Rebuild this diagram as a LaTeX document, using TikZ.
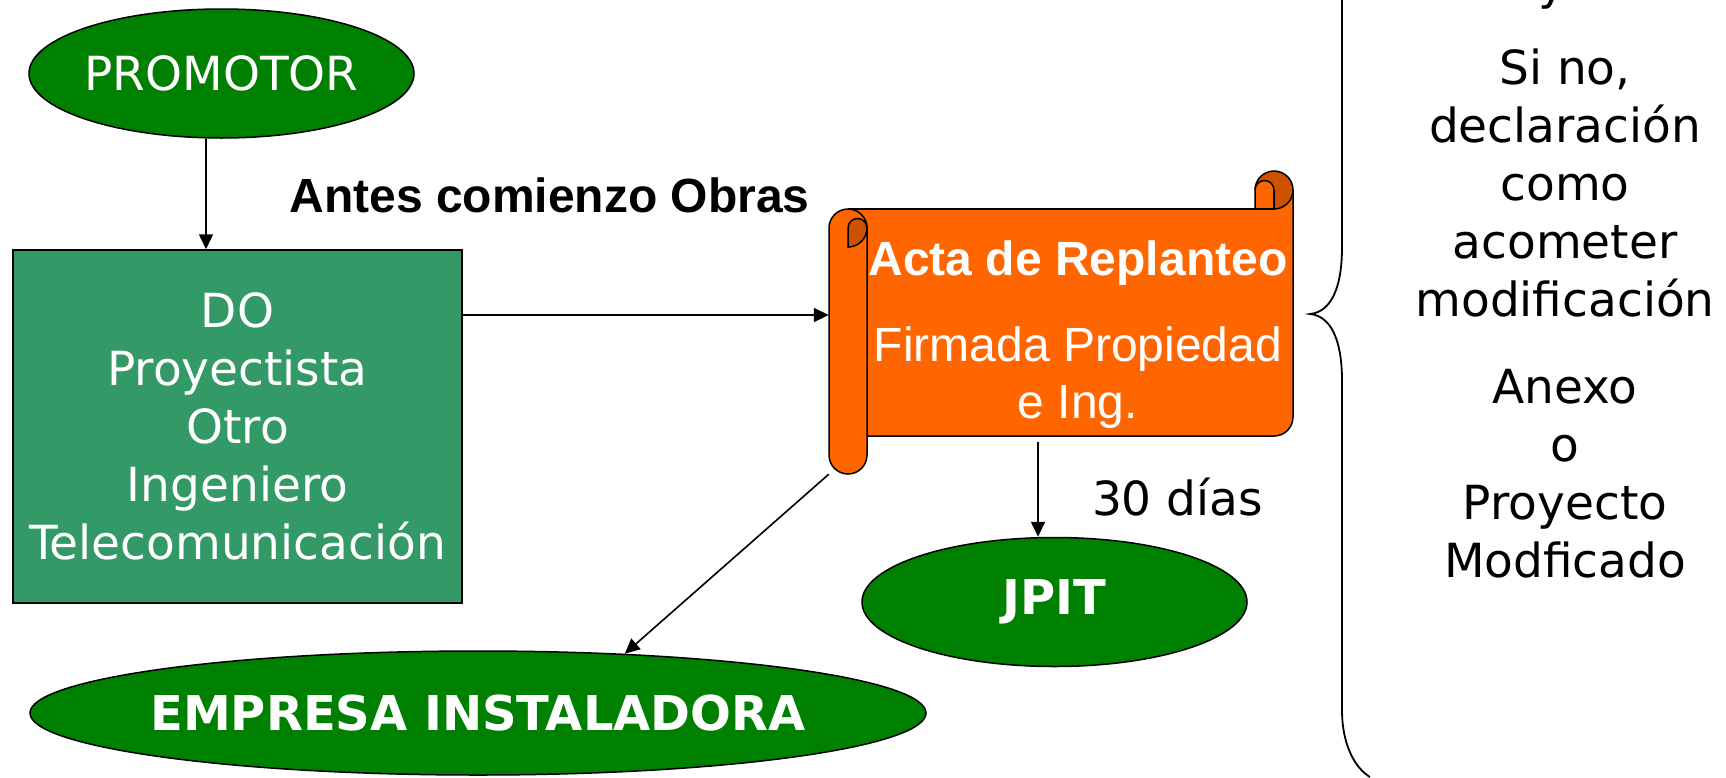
\documentclass[tikz,border=0pt]{standalone}
\usepackage{fontspec}
\setmainfont{DejaVu Sans}
\newfontfamily\arialfont{Liberation Sans}
\usetikzlibrary{shapes.geometric, arrows.meta}

\definecolor{verdeactor}{RGB}{0,128,0}
\definecolor{verdedo}{RGB}{51,153,102}
\definecolor{naranja}{RGB}{255,102,0}
\definecolor{naranjaosc}{RGB}{204,82,0}

\begin{document}
\begin{tikzpicture}[
        x=1pt, y=-1pt,
        every node/.style={align=center, inner sep=0pt, font=\fontsize{47}{58}\selectfont},
        actor/.style={ellipse, draw, line width=1.5pt, fill=verdeactor, text=white},
        actorb/.style={actor, font=\fontsize{48}{58}\selectfont\bfseries},
        agente/.style={draw, line width=1.5pt, fill=verdedo, text=white, minimum width=449pt, minimum height=353pt},
        marco/.style={minimum width=464pt, minimum height=303pt},
        titulo/.style={font=\arialfont\fontsize{48}{57}\selectfont\bfseries},
        actatxt/.style={font=\arialfont\fontsize{48}{57}\selectfont, text=white},
        rollo/.style={fill=naranja, draw=black, line width=1.5pt},
        rizo/.style={fill=naranjaosc, draw=black, line width=1.5pt},
        borde/.style={draw=black, line width=1.5pt},
        link/.style={-{Triangle[length=15pt, width=14pt]}, line width=1.6pt}
    ]
    \useasboundingbox (0,0) rectangle (1726,777);

    % Promotor y direccion de obra
    \node[actor, inner xsep=-2pt, minimum width=385pt, minimum height=129pt] (promotor) at (221.5,73.5) {PROMOTOR};
    \node[agente] (do) at (237.5,426.5) {DO\\Proyectista\\Otro\\Ingeniero\\Telecomunicación};
    \node[titulo, anchor=base] (antes) at (549.5,212) {Antes comienzo Obras};

    % Acta (pergamino)
    \fill[naranja] (848,209) -- (1255,209) -- (1255,190) -- (1293,190) -- (1293,417)
        arc[start angle=0, end angle=90, radius=19] -- (848,436) -- cycle;
    \fill[naranjaosc] (1274,190) circle[radius=19];
    \fill[naranja] (1255,209) -- (1255,190) arc[start angle=180, end angle=360, radius=9.5] -- (1274,209) -- cycle;
    \draw[borde] (848,209) -- (1274,209) -- (1274,190);
    \draw[borde] (1255,209) -- (1255,190) arc[start angle=180, end angle=360, radius=19] -- (1293,417)
        arc[start angle=0, end angle=90, radius=19] -- (867,436);
    \draw[borde] (1255,190) arc[start angle=180, end angle=360, radius=9.5];
    \draw[borde] (1293,190) arc[start angle=0, end angle=90, radius=19];
    \draw[rollo] (829,228) -- (829,455) arc[start angle=180, end angle=0, radius=19] -- (867,228)
        arc[start angle=0, end angle=-180, radius=19] -- cycle;
    \draw[rizo] (848,247) arc[start angle=90, end angle=0, radius=19]
        arc[start angle=0, end angle=-180, radius=9.5] -- cycle;

    \node[marco] (acta) at (1061,322.5) {};
    \node[titulo, text=white, anchor=base] (actatitulo) at (1078,275) {Acta de Replanteo};
    \node[actatxt, anchor=north] (actafirma) at (1078,326.6) {Firmada Propiedad\\e Ing.};
    \coordinate (actain) at ([yshift=7.5pt]acta.west);
    \coordinate (actapie) at ([yshift=32pt]acta.south);

    % Destinos
    \node[actorb, minimum width=385pt, minimum height=129pt] (jpit) at (1054.5,602) {JPIT};
    \node[anchor=base] (plazo) at (1177.5,515) {30 días};
    \node[actorb, inner xsep=-15pt, minimum width=896pt, minimum height=124pt] (empresa) at (478,713) {EMPRESA INSTALADORA};

    % Nota lateral
    \node[anchor=base] (notay) at (1552,-1) {y};
    \node[anchor=north] (nota) at (1565,48.3) {Si no,\\declaración\\como\\acometer\\modificación\\[29.5pt]Anexo\\o\\Proyecto\\Modficado};
    \draw[line width=1.8pt] (1370,-149) .. controls (1355,-140) and (1342,-117) .. (1342,-82) -- (1342,247)
        .. controls (1342,290) and (1330,312) .. (1310,314)
        .. controls (1330,316) and (1342,338) .. (1342,381) -- (1342,710)
        .. controls (1342,745) and (1355,768) .. (1370,777);

    % Edges
    \coordinate (bajada) at ([xshift=-15.5pt]promotor.south);
    \coordinate (aviso) at ([xshift=-16.5pt]jpit.north);
    \draw[link] (bajada) -- (bajada |- do.north);
    \draw[link] (do.east |- actain) -- (actain);
    \draw[link] (aviso |- actapie) -- (aviso);
    \draw[link] (acta.south west) -- (empresa.22);

    \end{tikzpicture}
\end{document}
